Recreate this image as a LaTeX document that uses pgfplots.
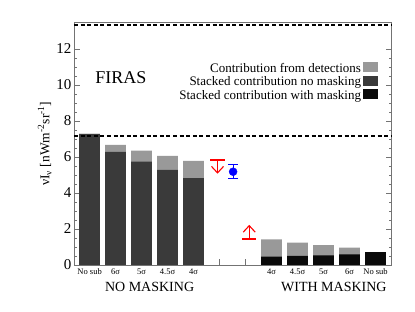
\documentclass[border=0pt]{standalone}
\usepackage{fontspec}
\setmainfont{Liberation Serif}
\usepackage{pgfplots}
\pgfplotsset{compat=1.18}
\usetikzlibrary{arrows.meta}
\definecolor{cgrey}{HTML}{999999}
\definecolor{cdark}{HTML}{3A3A3A}
\definecolor{cblack}{HTML}{0A0A0A}
\definecolor{limred}{RGB}{255,0,0}
\begin{document}
\begin{tikzpicture}
\begin{axis}[
  scale only axis,
  width=317.7pt, height=242.5pt,
  xmin=-0.6, xmax=11.62,
  ymin=0, ymax=13.47,
  clip=false,
  axis line style={black!55, line width=0.8pt},
  tick style={black!55, line width=0.6pt},
  tick align=inside,
  xtick={0,...,11},
  xticklabels={No sub,6σ,5σ,4.5σ,4σ,,,4σ,4.5σ,5σ,6σ,No sub},
  xtick pos=bottom,
  xticklabel style={font=\fontsize{8.5}{9}\selectfont, yshift=-0.5pt},
  ytick={0,2,...,12},
  minor y tick num=3,
  ytick pos=both,
  major tick length=6pt,
  minor tick length=3pt,
  /pgf/number format/assume math mode=true,
  yticklabel style={font=\fontsize{15}{15}\selectfont, xshift=1pt},
  ylabel={νI\textsubscript{ν} [nWm\textsuperscript{-2}sr\textsuperscript{-1}]},
  ylabel style={font=\fontsize{13.5}{14}\selectfont, at={(axis description cs:-0.092,0.5)}, anchor=center},
  legend style={draw=none, fill=none, at={(axis description cs:0.967,0.85)}, anchor=north east,
    font=\fontsize{13}{13}\selectfont, row sep=-1.1pt,
    /tikz/every even column/.append style={column sep=4pt}},
  legend cell align=right,
  legend plot pos=right,
  legend image code/.code={\fill[#1] (0pt,-3.8pt) rectangle (15pt,6.2pt);},
]
% grey: total heights
\addplot[ybar, bar width=20.7pt, bar shift=0pt, fill=cgrey, draw=none] coordinates {
 (0,7.28) (1,6.67) (2,6.35) (3,6.06) (4,5.79)
 (7,1.43) (8,1.24) (9,1.11) (10,0.96) (11,0.72)};
\addlegendentry{Contribution from detections}
\addplot[ybar, bar width=20.7pt, bar shift=0pt, fill=cdark, draw=none] coordinates {
 (0,7.28) (1,6.29) (2,5.74) (3,5.28) (4,4.82)};
\addlegendentry{Stacked contribution no masking}
\addplot[ybar, bar width=20.7pt, bar shift=0pt, fill=cblack, draw=none] coordinates {
 (7,0.46) (8,0.50) (9,0.54) (10,0.59) (11,0.72)};
\addlegendentry{Stacked contribution with masking}
% FIRAS dashed lines
\addplot[black, line width=1.6pt, dash pattern=on 4pt off 2.6pt, forget plot] coordinates {(-0.6,13.32) (11.62,13.32)};
\addplot[black, line width=1.6pt, dash pattern=on 4pt off 2.6pt, forget plot] coordinates {(-0.6,7.17) (11.62,7.17)};
% upper limit arrow
\addplot[limred, line width=1.1pt, -{Straight Barb[width=12pt,length=6.5pt,line width=1.1pt]}, quiver={u=0,v=-0.76}, forget plot] coordinates {(4.92,5.83)};
% lower limit arrow
\addplot[limred, line width=1.1pt, -{Straight Barb[width=12pt,length=6.5pt,line width=1.1pt]}, quiver={u=0,v=0.78}, forget plot] coordinates {(6.14,1.45)};
% limit bars (drawn last, as plain red lines)
\addplot[color=limred, line width=1.4pt, mark=none, forget plot] coordinates {(4.65,5.83) (5.19,5.83)};
\addplot[color=limred, line width=1.4pt, mark=none, forget plot] coordinates {(5.87,1.45) (6.41,1.45)};
% measurement
\addplot[blue, only marks, mark=*, mark size=4pt, forget plot,
  error bars/.cd, y dir=both, y explicit,
  error bar style={line width=1pt, blue},
  error mark options={rotate=90, mark size=5pt, line width=1pt, blue}]
  coordinates {(5.52,5.18) +- (0,0.40)};
\node[font=\fontsize{18}{18}\selectfont] at (axis cs:1.2,10.4) {FIRAS};
\node[font=\fontsize{14}{14}\selectfont] at (rel axis cs:0.238,-0.09) {NO MASKING};
\node[font=\fontsize{14}{14}\selectfont] at (rel axis cs:0.818,-0.09) {WITH MASKING};
\end{axis}
\path[use as bounding box] ([xshift=-74pt,yshift=-47pt]current axis.south west) rectangle ([xshift=23.3pt,yshift=22.5pt]current axis.north east);
\end{tikzpicture}
\end{document}
